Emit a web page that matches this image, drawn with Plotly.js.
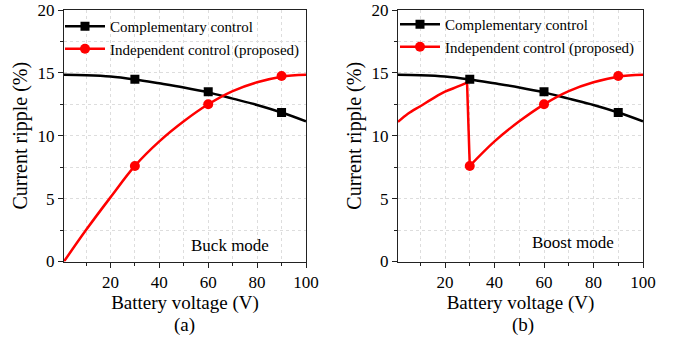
<!DOCTYPE html>
<html><head><meta charset="utf-8">
<script src="https://cdn.plot.ly/plotly-3.0.1.min.js"></script>
<style>html,body{margin:0;padding:0;background:#fff}#chart{width:680px;height:343px}</style>
</head><body><div id="chart"></div>
<script>
const seriesNames = ['Complementary control', 'Independent control (proposed)'];
const curveX = [1, 10, 20, 30, 40, 50, 60, 70, 80, 90, 100];
const compY = [14.85, 14.82, 14.72, 14.48, 14.17, 13.84, 13.45, 12.95, 12.45, 11.85, 11.15];
const buckIndepY = [0, 2.5, 5.1, 7.6, 9.55, 11.15, 12.5, 13.55, 14.25, 14.7, 14.85];
const boostLowX = [1, 5, 10, 15, 20, 25, 28.9];
const boostLowY = [11.1, 11.75, 12.35, 12.95, 13.5, 13.9, 14.23];
const boostDropX = [28.9, 30];
const boostDropY = [14.23, 7.6];
const boostHighX = [30, 40, 50, 60, 70, 80, 90, 100];
const boostHighY = [7.6, 9.55, 11.15, 12.5, 13.55, 14.25, 14.7, 14.85];
const markerX = [30, 60, 90];
const compMarkY = [14.5, 13.5, 11.85];
const indepMarkY = [7.6, 12.5, 14.75];
const xTicks = [20, 40, 60, 80, 100];
const yTicks = [0, 5, 10, 15, 20];
const panelLabels = ['(a)', '(b)'];
const modeLabels = ['Buck mode', 'Boost mode'];

const BLACK = '#000000', RED = '#ff0000';
const FONT = 'Liberation Serif, serif';
const LW = 2.5;

function lineTrace(x, y, color, xa, ya, shape) {
  return {x: x, y: y, xaxis: xa, yaxis: ya, mode: 'lines', showlegend: false, hoverinfo: 'skip',
    line: {color: color, width: LW, shape: shape || 'spline', smoothing: 1}};
}
function markTrace(y, color, sym, size, xa, ya) {
  return {x: markerX, y: y, xaxis: xa, yaxis: ya, mode: 'markers', showlegend: false,
    marker: {color: color, symbol: sym, size: size}};
}
function legTrace(name, color, sym, size, leg) {
  return {x: [null], y: [null], mode: 'lines+markers', name: name, legend: leg,
    line: {color: color, width: LW}, marker: {color: color, symbol: sym, size: size}};
}

const traces = [
  lineTrace(curveX, compY, BLACK, 'x', 'y'),
  lineTrace(curveX, buckIndepY, RED, 'x', 'y'),
  markTrace(compMarkY, BLACK, 'square', 9, 'x', 'y'),
  markTrace(indepMarkY, RED, 'circle', 10, 'x', 'y'),
  lineTrace(curveX, compY, BLACK, 'x2', 'y2'),
  lineTrace(boostLowX, boostLowY, RED, 'x2', 'y2'),
  lineTrace(boostDropX, boostDropY, RED, 'x2', 'y2', 'linear'),
  lineTrace(boostHighX, boostHighY, RED, 'x2', 'y2'),
  markTrace(compMarkY, BLACK, 'square', 9, 'x2', 'y2'),
  markTrace(indepMarkY, RED, 'circle', 10, 'x2', 'y2'),
  legTrace(seriesNames[0], BLACK, 'square', 9, 'legend'),
  legTrace(seriesNames[1], RED, 'circle', 10, 'legend'),
  legTrace(seriesNames[0], BLACK, 'square', 9, 'legend2'),
  legTrace(seriesNames[1], RED, 'circle', 10, 'legend2')
];

function xAxis(domain, anchor) {
  return {domain: domain, anchor: anchor, range: [1, 100], tickvals: xTicks, ticks: 'outside', ticklen: 5,
    tickcolor: '#222', showline: true, linecolor: '#222', linewidth: 1, mirror: true, zeroline: false,
    showgrid: true, gridcolor: '#dddddd', griddash: 'dot', gridwidth: 1,
    tickfont: {family: FONT, size: 17, color: '#000'},
    minor: {dtick: 10, tick0: 0, ticks: 'outside', ticklen: 3, tickcolor: '#222', showgrid: true, gridcolor: '#dddddd', griddash: 'dot'},
    title: {text: 'Battery voltage (V)', font: {family: FONT, size: 19, color: '#000'}, standoff: 4}};
}
function yAxis(domain, anchor) {
  return {domain: domain, anchor: anchor, range: [0, 20], tickvals: yTicks, ticks: 'outside', ticklen: 5,
    tickcolor: '#222', showline: true, linecolor: '#222', linewidth: 1, mirror: true, zeroline: false,
    showgrid: true, gridcolor: '#dddddd', griddash: 'dot', gridwidth: 1,
    tickfont: {family: FONT, size: 17, color: '#000'},
    minor: {dtick: 2.5, tick0: 0, ticks: 'outside', ticklen: 3, tickcolor: '#222', showgrid: true, gridcolor: '#dddddd', griddash: 'dot'},
    title: {text: 'Current ripple (%)', font: {family: FONT, size: 20, color: '#000'}, standoff: 4}};
}

const yDom = [(343 - 261.5) / 343, (343 - 10) / 343];
const legendBase = {bgcolor: 'rgba(0,0,0,0)', borderwidth: 0, font: {family: FONT, size: 15, color: '#000'},
  xanchor: 'left', yanchor: 'top', yref: 'paper', xref: 'paper', itemwidth: 40, tracegroupgap: 0};

const layout = {
  width: 680, height: 343, paper_bgcolor: '#fff', plot_bgcolor: '#fff',
  font: {family: FONT},
  margin: {l: 0, r: 0, t: 0, b: 0, autoexpand: false},
  showlegend: true,
  xaxis: xAxis([64 / 680, 306 / 680], 'y'),
  yaxis: yAxis(yDom, 'x'),
  xaxis2: xAxis([398 / 680, 643 / 680], 'y2'),
  yaxis2: yAxis(yDom, 'x2'),
  legend: Object.assign({}, legendBase, {x: 60 / 680, y: (343 - 10) / 343}),
  legend2: Object.assign({}, legendBase, {x: 395 / 680, y: (343 - 8) / 343}),
  annotations: [
    {text: modeLabels[0], x: 69, y: 1.3, xref: 'x', yref: 'y', xanchor: 'center', yanchor: 'middle', showarrow: false, font: {family: FONT, size: 17, color: '#000'}},
    {text: modeLabels[1], x: 71.6, y: 1.5, xref: 'x2', yref: 'y2', xanchor: 'center', yanchor: 'middle', showarrow: false, font: {family: FONT, size: 17, color: '#000'}},
    {text: panelLabels[0], x: 185 / 680, y: (343 - 325) / 343, xref: 'paper', yref: 'paper', xanchor: 'center', yanchor: 'middle', showarrow: false, font: {family: FONT, size: 19, color: '#000'}},
    {text: panelLabels[1], x: 523 / 680, y: (343 - 325) / 343, xref: 'paper', yref: 'paper', xanchor: 'center', yanchor: 'middle', showarrow: false, font: {family: FONT, size: 19, color: '#000'}}
  ]
};

Plotly.newPlot('chart', traces, layout, {displayModeBar: false, staticPlot: true});
</script></body></html>
